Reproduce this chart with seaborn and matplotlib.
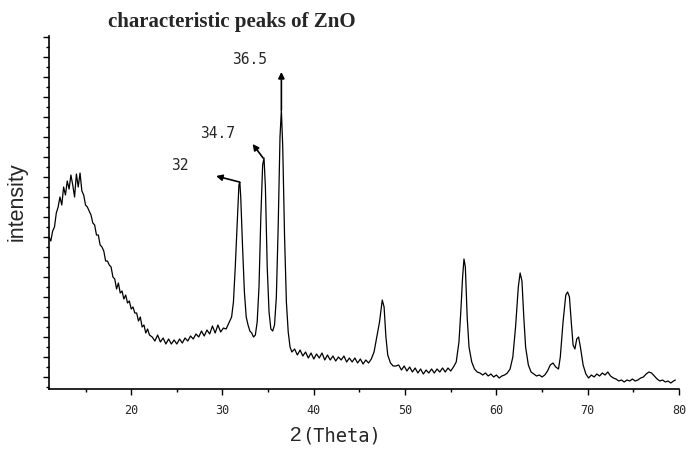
import matplotlib
matplotlib.use("Agg")
import matplotlib.pyplot as plt
import seaborn as sns
import pandas as pd
from matplotlib.ticker import MultipleLocator

two_theta = [11.0, 11.2, 11.4, 11.6, 11.8, 12.0, 12.2, 12.4, 12.6, 12.8, 13.0, 13.2, 13.4, 13.6, 13.8, 14.0,
             14.2, 14.4, 14.6, 14.8, 15.0, 15.2, 15.4, 15.6, 15.8, 16.0, 16.2, 16.4, 16.6, 16.8, 17.0, 17.2,
             17.4, 17.6, 17.8, 18.0, 18.2, 18.4, 18.6, 18.8, 19.0, 19.2, 19.4, 19.6, 19.8, 20.0, 20.2, 20.4,
             20.6, 20.8, 21.0, 21.2, 21.4, 21.6, 21.8, 22.0, 22.3, 22.6, 22.9, 23.2, 23.5, 23.8, 24.1, 24.4,
             24.7, 25.0, 25.3, 25.6, 25.9, 26.2, 26.5, 26.8, 27.1, 27.4, 27.7, 28.0, 28.3, 28.6, 28.9, 29.2,
             29.5, 29.8, 30.1, 30.4, 30.7, 31.0, 31.2, 31.4, 31.6, 31.8, 31.9, 32.0, 32.2, 32.4, 32.6, 32.8,
             33.0, 33.2, 33.4, 33.6, 33.8, 34.0, 34.2, 34.4, 34.55, 34.7, 34.9, 35.1, 35.3, 35.5, 35.7, 35.9,
             36.1, 36.3, 36.45, 36.6, 36.8, 37.0, 37.2, 37.4, 37.6, 37.9, 38.2, 38.5, 38.8, 39.1, 39.4, 39.7,
             40.0, 40.3, 40.6, 40.9, 41.2, 41.5, 41.8, 42.1, 42.4, 42.7, 43.0, 43.3, 43.6, 43.9, 44.2, 44.5,
             44.8, 45.1, 45.4, 45.7, 46.0, 46.3, 46.6, 46.9, 47.2, 47.5, 47.7, 47.9, 48.1, 48.4, 48.7, 49.0,
             49.3, 49.6, 49.9, 50.2, 50.5, 50.8, 51.1, 51.4, 51.7, 52.0, 52.3, 52.6, 52.9, 53.2, 53.5, 53.8,
             54.1, 54.4, 54.7, 55.0, 55.3, 55.6, 55.9, 56.1, 56.3, 56.45, 56.6, 56.8, 57.0, 57.3, 57.6, 57.9,
             58.2, 58.5, 58.8, 59.1, 59.4, 59.7, 60.0, 60.3, 60.6, 60.9, 61.2, 61.5, 61.8, 62.1, 62.4, 62.6,
             62.8, 63.0, 63.2, 63.5, 63.8, 64.1, 64.4, 64.7, 65.0, 65.3, 65.6, 65.9, 66.2, 66.5, 66.8, 67.0,
             67.3, 67.6, 67.8, 68.0, 68.2, 68.4, 68.6, 68.8, 69.0, 69.2, 69.5, 69.8, 70.1, 70.4, 70.7, 71.0,
             71.3, 71.6, 71.9, 72.2, 72.5, 72.8, 73.1, 73.4, 73.7, 74.0, 74.3, 74.6, 74.9, 75.2, 75.5, 75.8,
             76.1, 76.4, 76.7, 77.0, 77.3, 77.6, 77.9, 78.2, 78.5, 78.8, 79.1, 79.4, 79.6]

intensity = [140, 136, 146, 150, 164, 170, 180, 172, 190, 182, 196, 188, 202, 192, 180, 203,
             190, 204, 186, 182, 172, 170, 166, 162, 154, 152, 142, 142, 132, 130, 126, 116,
             116, 112, 110, 100, 98, 88, 94, 84, 86, 78, 82, 74, 76, 68, 70, 64,
             64, 56, 60, 50, 52, 44, 48, 42, 40, 36, 42, 35, 39, 33, 38, 33,
             37, 33, 38, 34, 39, 36, 41, 38, 43, 40, 46, 41, 47, 43, 51, 44,
             52, 45, 49, 48, 54, 60, 75, 110, 150, 192, 195, 180, 130, 85, 60, 52,
             46, 44, 40, 42, 55, 90, 160, 212, 219, 190, 110, 65, 48, 46, 52, 80,
             150, 240, 267, 230, 140, 75, 45, 30, 25, 28, 22, 27, 21, 25, 19, 24,
             18, 23, 19, 24, 17, 22, 17, 21, 16, 20, 17, 21, 15, 19, 15, 19,
             14, 18, 13, 17, 14, 18, 25, 40, 55, 77, 70, 40, 22, 14, 11, 11,
             12, 7, 11, 6, 10, 5, 9, 4, 8, 3, 7, 4, 8, 4, 8, 5,
             9, 5, 9, 6, 10, 15, 35, 65, 100, 118, 110, 60, 30, 15, 8, 5,
             4, 2, 4, 1, 3, 0, 2, -1, 1, 2, 4, 8, 20, 50, 90, 104,
             96, 60, 30, 12, 5, 3, 1, 2, 0, 2, 6, 12, 14, 10, 8, 20,
             55, 82, 85, 80, 55, 32, 28, 38, 40, 30, 12, 3, -1, 2, 0, 3,
             1, 4, 2, 5, 1, -1, -2, -4, -3, -5, -3, -4, -2, -4, -3, -1,
             0, 3, 5, 4, 1, -2, -4, -3, -5, -4, -6, -4, -3]

peak_labels = ["32", "34.7", "36.5"]
peak_tips = [(31.85, 195), (34.45, 219), (36.45, 267)]
arrow_heads = [(29.3, 201), (33.3, 233), (36.45, 305)]
label_pos = [(25.3, 211), (29.5, 244), (33.0, 317)]

x_ticks = [20, 30, 40, 50, 60, 70, 80]
x_tick_labels = ["20", "30", "40", "50", "60", "70", "80"]

sns.set_style("ticks")
plt.rcParams["font.family"] = ["DejaVu Sans"]

df = pd.DataFrame({"two_theta": two_theta, "intensity": intensity})

fig = plt.figure(figsize=(6.89, 4.49), dpi=100)
ax = fig.add_axes([49 / 689, 1 - 389 / 449, 630 / 689, 353 / 449])
sns.lineplot(data=df, x="two_theta", y="intensity", ax=ax, color="black", linewidth=0.9,
             estimator=None, sort=False)

ax.set_xlim(11, 80)
ax.set_ylim(-12, 341)
ax.set_xticks(x_ticks)
ax.set_xticklabels(x_tick_labels, family="DejaVu Sans Mono", fontsize=8.5)
ax.xaxis.set_minor_locator(MultipleLocator(5))
ax.yaxis.set_major_locator(MultipleLocator(20))
ax.yaxis.set_minor_locator(MultipleLocator(10))
ax.set_yticklabels([])
ax.tick_params(axis="both", which="major", length=4.5, width=1, color="black", direction="out", pad=6)
ax.tick_params(axis="both", which="minor", length=2.5, width=1, color="black", direction="out")
ax.set_xlabel("")
ax.set_ylabel("")
for s in ["top", "right"]:
    ax.spines[s].set_visible(False)
for s in ["left", "bottom"]:
    ax.spines[s].set_color("black")
    ax.spines[s].set_linewidth(1.2)

for lab, tip, head, pos in zip(peak_labels, peak_tips, arrow_heads, label_pos):
    ax.annotate("", xy=head, xytext=tip,
                arrowprops=dict(arrowstyle="-|>", color="black", lw=1.2, mutation_scale=9,
                                shrinkA=0, shrinkB=0))
    ax.text(pos[0], pos[1], lab, ha="center", va="center", family="DejaVu Sans Mono", fontsize=10.5)

fig.text(232 / 689, 1 - 22 / 449, "characteristic peaks of ZnO", ha="center", va="center",
         family="Liberation Serif", fontweight="bold", fontsize=15)
fig.text(17 / 689, 1 - 202 / 449, "intensity", rotation=90, ha="center", va="center",
         family="Liberation Sans", fontsize=15.5)
fig.text(296 / 689, 1 - 441 / 449, "2", ha="center", va="baseline", family="Liberation Sans", fontsize=15)
fig.text(302 / 689, 1 - 441 / 449, "(Theta)", ha="left", va="baseline", family="DejaVu Sans Mono",
         fontsize=13.5)

fig.savefig("out.png", dpi=100)
